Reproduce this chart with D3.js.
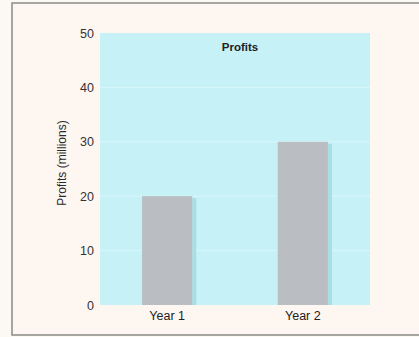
<!DOCTYPE html>
<html>
<head>
<meta charset="utf-8">
<script src="https://cdn.jsdelivr.net/npm/d3@7"></script>
<style>
  html, body { margin: 0; padding: 0; background: #fbf9f2; }
  svg { display: block; font-family: "Liberation Sans", Arial, sans-serif; }
</style>
</head>
<body>
<svg id="chart" width="419" height="337"></svg>
<script>
// chart data
const years = ["Year 1", "Year 2"];
const profits = [20, 30];
const yTicks = [0, 10, 20, 30, 40, 50];

const svg = d3.select("#chart");

// page frame (scanned page look)
svg.append("rect")
    .attr("x", 12).attr("y", 3)
    .attr("width", 410).attr("height", 332)
    .attr("fill", "#fdf6f1")
    .attr("stroke", "#8a8a86")
    .attr("stroke-width", 1.5);

const plot = { left: 100, right: 370, top: 33, bottom: 305 };

const x = d3.scaleBand()
    .domain(years)
    .range([plot.left, plot.right])
    .paddingInner(0.63)
    .paddingOuter(0.31);

const y = d3.scaleLinear()
    .domain([0, 50])
    .range([plot.bottom, plot.top]);

// plot background
svg.append("rect")
    .attr("x", plot.left).attr("y", plot.top)
    .attr("width", plot.right - plot.left)
    .attr("height", plot.bottom - plot.top)
    .attr("fill", "#c6f1f7");

// faint gridlines
svg.append("g")
  .selectAll("line")
  .data(yTicks.slice(1, -1))
  .join("line")
    .attr("x1", plot.left).attr("x2", plot.right)
    .attr("y1", d => y(d)).attr("y2", d => y(d))
    .attr("stroke", "#d8f7fa")
    .attr("stroke-width", 1);

// bar shadows
svg.append("g")
  .selectAll("rect")
  .data(profits)
  .join("rect")
    .attr("x", (d, i) => x(years[i]) + x.bandwidth())
    .attr("y", d => y(d) + 2)
    .attr("width", 4)
    .attr("height", d => y(0) - y(d) - 2)
    .attr("fill", "#a9dfe4");

// bars
svg.append("g")
  .selectAll("rect")
  .data(profits)
  .join("rect")
    .attr("x", (d, i) => x(years[i]))
    .attr("y", d => y(d))
    .attr("width", x.bandwidth())
    .attr("height", d => y(0) - y(d))
    .attr("fill", "#babdc1");

// y axis (labels only)
const yAxis = svg.append("g")
    .attr("transform", `translate(${plot.left}, 0)`)
    .call(d3.axisLeft(y).tickValues(yTicks).tickSize(0).tickPadding(6));
yAxis.select(".domain").remove();
yAxis.selectAll("text")
    .attr("font-size", 12.5)
    .attr("fill", "#333")
    .attr("font-family", "Liberation Sans, Arial, sans-serif");

// x axis (labels only)
const xAxis = svg.append("g")
    .attr("transform", `translate(0, ${plot.bottom})`)
    .call(d3.axisBottom(x).tickSize(0).tickPadding(6));
xAxis.select(".domain").remove();
xAxis.selectAll("text")
    .attr("font-size", 12.5)
    .attr("fill", "#222")
    .attr("font-family", "Liberation Sans, Arial, sans-serif");

// title
svg.append("text")
    .attr("x", 240).attr("y", 51)
    .attr("text-anchor", "middle")
    .attr("font-size", 11.5)
    .attr("font-weight", "bold")
    .attr("fill", "#222")
    .text("Profits");

// y axis title
svg.append("text")
    .attr("transform", "translate(66, 163) rotate(-90)")
    .attr("text-anchor", "middle")
    .attr("font-size", 12)
    .attr("fill", "#2a2a2a")
    .text("Profits (millions)");
</script>
</body>
</html>
